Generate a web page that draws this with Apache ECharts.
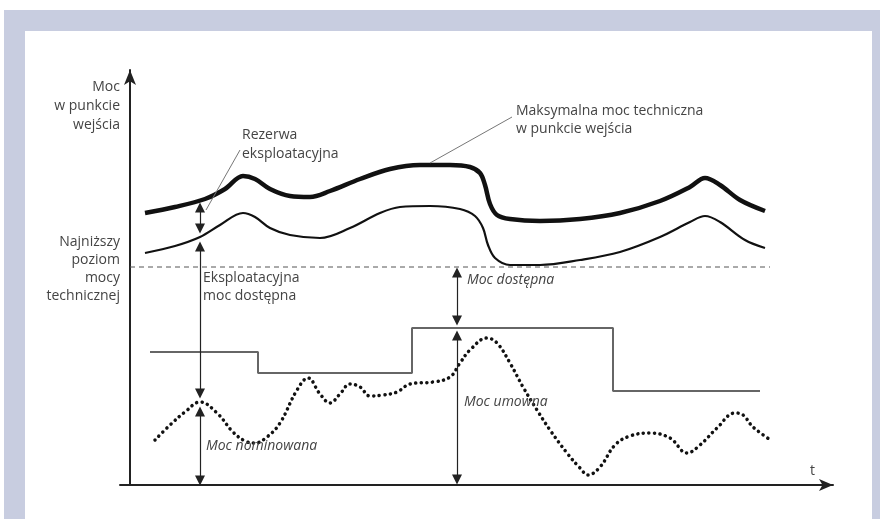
<!DOCTYPE html>
<html>
<head>
<meta charset="utf-8">
<script src="https://cdn.jsdelivr.net/npm/echarts@6/dist/echarts.min.js"></script>
<style>
  html, body { margin: 0; padding: 0; background: #fff; }
  #chart { width: 880px; height: 519px; }
</style>
</head>
<body>
<div id="chart"></div>
<script>
// schematic units: x = czas, y = moc (0 = os t)
var maxTech = [[15,272],[45,278],[75,286],[95,296],[113,309],[125,306],[140,296],[160,289],[180,288],[200,294],[230,306],[260,316],[290,320],[320,320],[340,318],[350,312],[355,300],[360,281],[367,270],[380,266],[410,264],[450,266],[490,272],[530,284],[560,298],[575,307],[590,300],[610,285],[635,274]];
var available = [[15,232],[45,239],[70,248],[90,260],[113,272],[125,268],[140,257],[160,250],[190,247],[220,257],[250,272],[270,278],[300,279],[330,276],[345,269],[353,257],[358,240],[365,227],[380,220],[410,220],[450,225],[490,233],[530,248],[560,263],[575,269],[590,263],[615,245],[635,237]];
var minLevel = 218;
var minLevelRange = [0, 640];
var contracted = [[20,133],[128,112],[282,157],[483,94],[630,94]];
var nominated = [[25,45],[40,60],[55,73],[70,83],[87,72],[103,53],[115,44],[125,42],[137,48],[150,62],[167,95],[178,107],[190,91],[200,82],[210,91],[220,101],[230,98],[240,89],[253,90],[267,93],[280,101],[303,103],[320,108],[330,122],[340,135],[357,147],[367,142],[380,122],[393,98],[407,75],[420,55],[437,32],[450,17],[458,10],[470,18],[485,40],[500,49],[520,52],[540,47],[557,32],[570,40],[587,57],[605,72],[613,70],[623,58],[642,44]];

// double arrows: [x, yTop, yBottom]
var spans = [[70,282,252],[70,243,87],[70,78,0],[327,217,160],[327,154,1]];
// leader lines
var leaders = [[[300,322],[382,368]],[[76,275],[110,335]]];

var chart = echarts.init(document.getElementById('chart'));

var ah = 4.5; // half arrow length
var spanLines = spans.map(function (s) {
  return [{coord: [s[0], s[1] - ah]}, {coord: [s[0], s[2] + ah]}];
});
var leaderLines = leaders.map(function (l) {
  return [{coord: l[0]}, {coord: l[1]}];
});

var txt = {fill: '#444', fontFamily: 'Open Sans', fontSize: 14};
function label(x, y, text, extra) {
  var st = Object.assign({x: x, y: y, text: text, lineHeight: 19, verticalAlign: 'top'}, txt, extra || {});
  return {type: 'text', z: 100, style: st};
}

var option = {
  animation: false,
  backgroundColor: '#fff',
  grid: {left: 120, top: 70, right: 47, bottom: 34},
  xAxis: {
    type: 'value', min: -10, max: 703,
    splitLine: {show: false}, axisTick: {show: false}, axisLabel: {show: false},
    axisLine: {lineStyle: {color: '#222', width: 2}, symbol: ['none', 'arrow'], symbolSize: [9, 14]}
  },
  yAxis: {
    type: 'value', min: 0, max: 415,
    splitLine: {show: false}, axisTick: {show: false}, axisLabel: {show: false},
    axisLine: {onZero: true, lineStyle: {color: '#222', width: 2}, symbol: ['none', 'arrow'], symbolSize: [9, 15]}
  },
  graphic: [
    {type: 'rect', z: -10, shape: {x: 4, y: 10, width: 876, height: 509}, style: {fill: '#c8cde0'}},
    {type: 'rect', z: -9, shape: {x: 25, y: 31, width: 847, height: 488}, style: {fill: '#ffffff'}},
    label(120, 78, 'Moc\nw punkcie\nwejścia', {align: 'right'}),
    label(242, 126, 'Rezerwa\neksploatacyjna'),
    label(516, 102, 'Maksymalna moc techniczna\nw punkcie wejścia', {lineHeight: 18}),
    label(120, 233, 'Najniższy\npoziom\nmocy\ntechnicznej', {align: 'right', lineHeight: 18}),
    label(203, 269, 'Eksploatacyjna\nmoc dostępna', {lineHeight: 18}),
    label(467, 271, 'Moc dostępna', {fontStyle: 'italic'}),
    label(464, 393, 'Moc umowna', {fontStyle: 'italic'}),
    label(206, 437, 'Moc nominowana', {fontStyle: 'italic'}),
    label(810, 462, 't')
  ],
  series: [
    {
      name: 'Maksymalna moc techniczna', type: 'line', data: maxTech,
      smooth: 0.35, symbol: 'none',
      lineStyle: {color: '#111', width: 4.5}
    },
    {
      name: 'Eksploatacyjna moc dostępna', type: 'line', data: available,
      smooth: 0.35, symbol: 'none',
      lineStyle: {color: '#111', width: 2.2}
    },
    {
      name: 'Najniższy poziom', type: 'line',
      data: [[minLevelRange[0], minLevel], [minLevelRange[1], minLevel]],
      symbol: 'none',
      lineStyle: {color: '#555', width: 1, type: [5, 4]}
    },
    {
      name: 'Moc umowna', type: 'line', data: contracted, step: 'end',
      symbol: 'none',
      lineStyle: {color: '#666', width: 2}
    },
    {
      name: 'Moc nominowana', type: 'line', data: nominated,
      smooth: 0.4, symbol: 'none',
      lineStyle: {color: '#111', width: 3.5, type: [0.1, 5.5], cap: 'round'}
    },
    {
      name: 'strzalki', type: 'line', data: [],
      markLine: {
        silent: true, animation: false,
        symbol: ['triangle', 'triangle'], symbolSize: [10, 10],
        label: {show: false},
        lineStyle: {color: '#222', width: 1.2, type: 'solid'},
        data: spanLines
      }
    },
    {
      name: 'odnosniki', type: 'line', data: [],
      markLine: {
        silent: true, animation: false,
        symbol: ['none', 'none'],
        label: {show: false},
        lineStyle: {color: '#777', width: 1, type: 'solid'},
        data: leaderLines
      }
    }
  ]
};

chart.setOption(option);
</script>
</body>
</html>
